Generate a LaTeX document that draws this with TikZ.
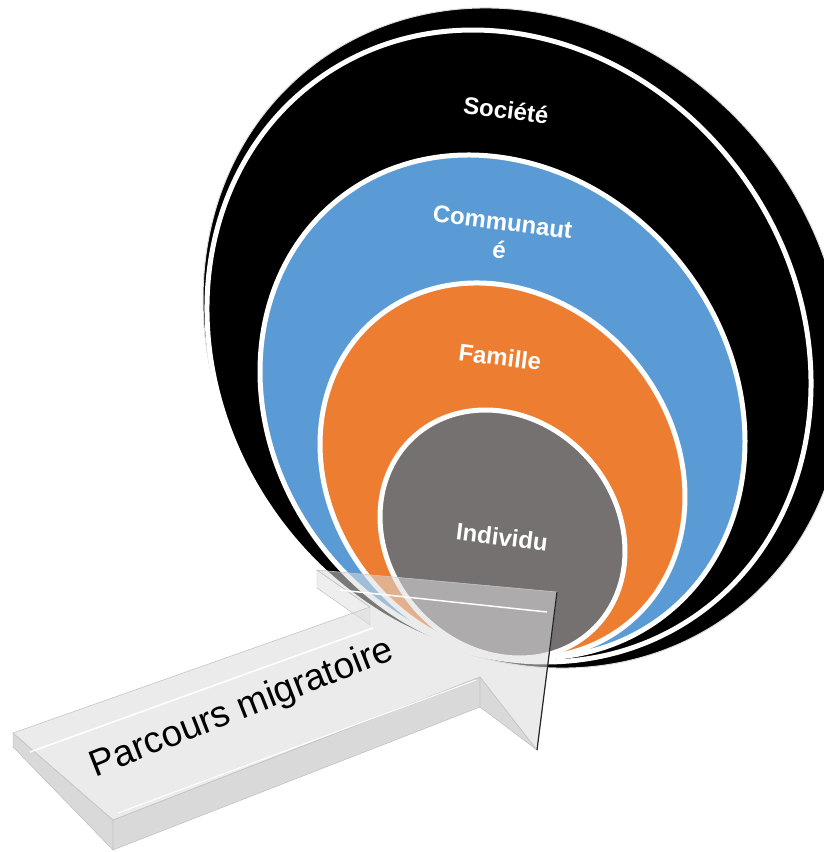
\documentclass[tikz,border=0pt]{standalone}
\usepackage{fontspec}
\setmainfont{Liberation Sans}
\definecolor{ringblue}{HTML}{5B9BD5}
\definecolor{ringorange}{HTML}{ED7D31}
\definecolor{ringgray}{HTML}{767171}
\tikzset{
  ring/.style={draw=white, line width=5pt},
  ringlabel/.style={text=white, font=\bfseries\fontsize{24}{28}\selectfont, rotate=-7, align=center},
  glass/.style={draw=gray!45, line width=0.6pt, fill=gray!28, fill opacity=0.55},
  edgeface/.style={fill=gray!38, draw=gray!55, line width=0.4pt, fill opacity=0.8}
}
\begin{document}
\begin{tikzpicture}[x=1pt,y=-1pt]
    \useasboundingbox (0,0) rectangle (824,852);
    % rings, back to front
    \filldraw[fill=black, draw=gray!25, line width=1pt] (524,338) circle[x radius=344.8, y radius=305.1, rotate=-51.6];
    \filldraw[ring, fill=black] (509,346) circle[x radius=328.1, y radius=288.8, rotate=-55.4];
    \filldraw[ring, fill=ringblue] (502.5,406.5) circle[x radius=264.3, y radius=228.5, rotate=-52.3];
    \filldraw[ring, fill=ringorange] (502.5,470.5) circle[x radius=197.8, y radius=171.3, rotate=-50.5];
    \filldraw[ring, fill=ringgray] (502.5,534) circle[x radius=131.6, y radius=114.3, rotate=-47.5];
    \node[ringlabel] (societe) at (506,110) {Société};
    \node[ringlabel] (communaute) at (501,236) {Communaut\\é};
    \node[ringlabel] (famille) at (500,357) {Famille};
    \node[ringlabel] (individu) at (502,537) {Individu};
    % arrow
    \coordinate (tailtop) at (13,733);
    \coordinate (shafttop) at (370,607);
    \coordinate (barbtop) at (317,570);
    \coordinate (tip) at (557,592);
    \coordinate (barbbot) at (537,750);
    \coordinate (notch) at (480,677);
    \coordinate (tailbot) at (113,820);
    \fill[edgeface] (tailtop) -- (tailbot) -- ++(0,30) -- (13,747) -- cycle;
    \fill[edgeface] (tailbot) -- (notch) -- ++(0,30) -- (113,850) -- cycle;
    \fill[edgeface] (notch) -- (barbbot) -- (480,707) -- cycle;
    \fill[edgeface, fill opacity=0.35] (barbtop) -- (shafttop) -- ++(0,18) -- (317,588) -- cycle;
    \filldraw[glass] (tailtop) -- (shafttop) -- (barbtop) -- (tip) -- (barbbot) -- (notch) -- (tailbot) -- cycle;
    \draw[gray!30!black, line width=1.2pt] (tip) -- (barbbot);
    \draw[white, line width=1.5pt] (30,752) -- (373,628);
    \draw[white, line width=1.5pt] (340,590) -- (547,612);
    \draw[white, line width=1pt] (118,813) -- (476,680);
    \node[rotate=21.5, font=\fontsize{37}{40}\selectfont] (parcours) at (242,709) {Parcours migratoire};
\end{tikzpicture}
\end{document}
